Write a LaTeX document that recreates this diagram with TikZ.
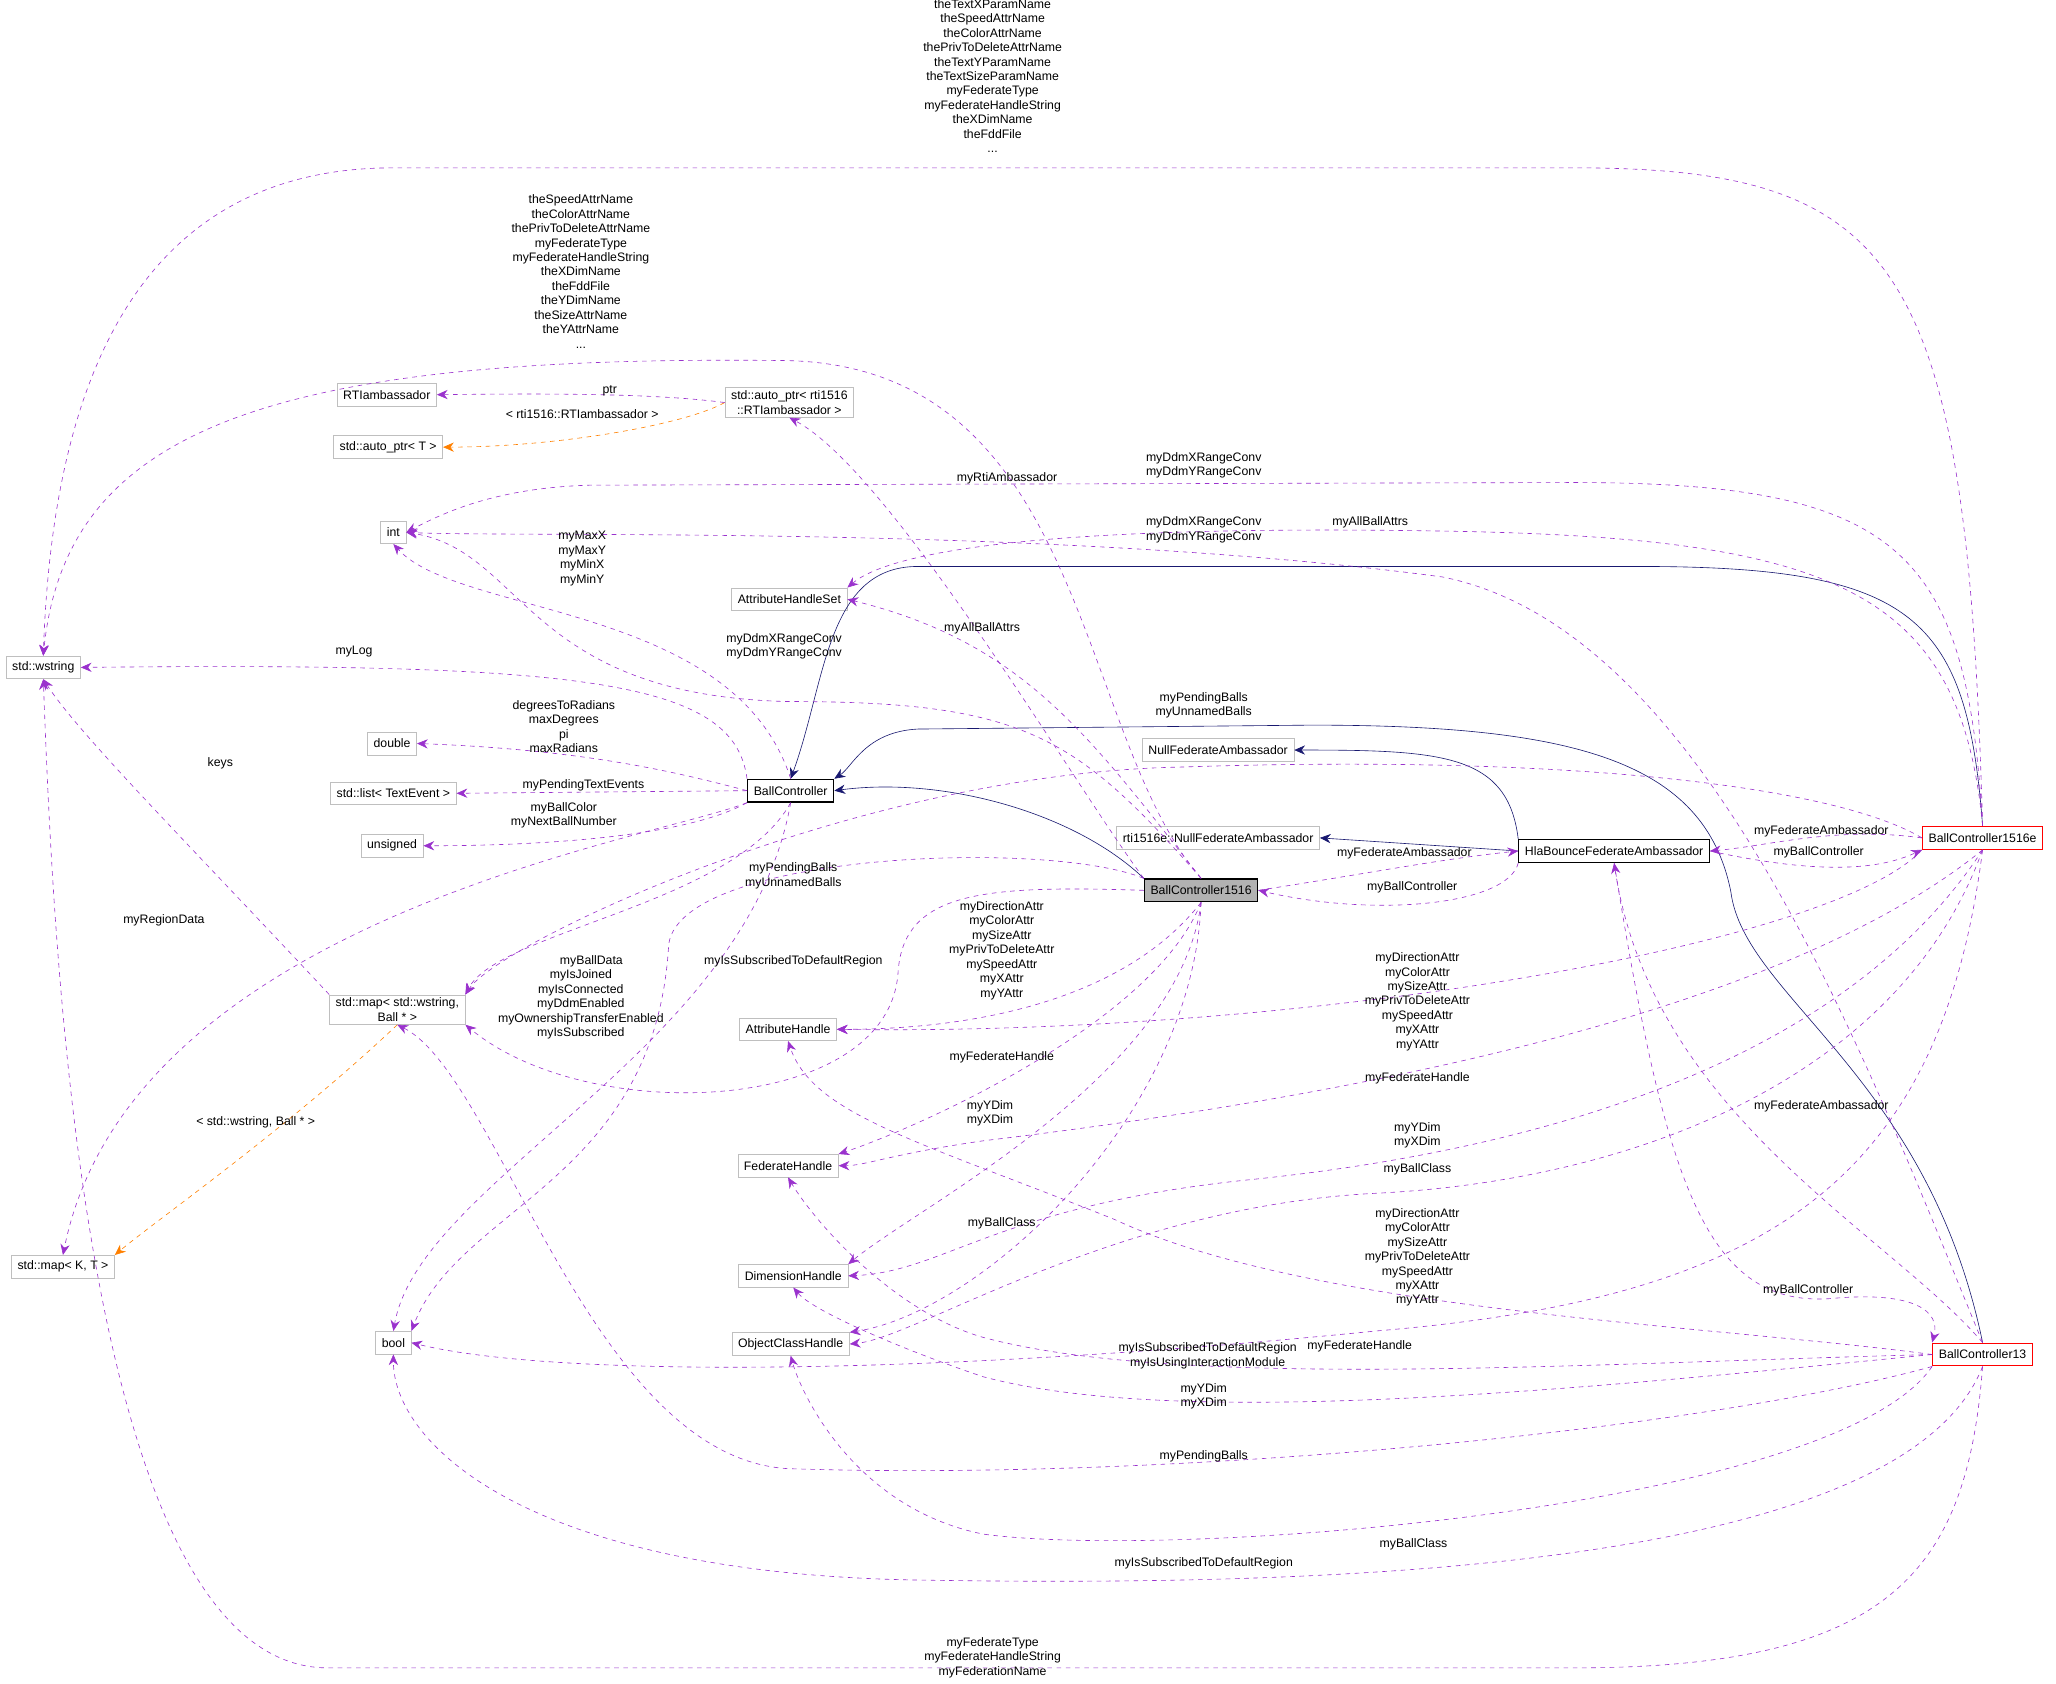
\documentclass[tikz,border=0pt]{standalone}
\usepackage{fontspec}
\setmainfont{Liberation Sans}
\usetikzlibrary{arrows.meta}
\definecolor{edgeuse}{HTML}{9A32CD}
\definecolor{edgeinh}{HTML}{191970}
\definecolor{boxgray}{HTML}{BFBFBF}
\tikzset{
  cls/.style={draw=boxgray, fill=white, inner xsep=4pt, inner ysep=2pt, minimum height=0.52cm, align=center, font=\fontsize{8}{9.4}\selectfont},
  main/.style={cls, draw=black, thick},
  ext/.style={cls, draw=red, thick},
  lbl/.style={align=center, inner sep=0pt, font=\fontsize{8}{9.4}\selectfont},
  use/.style={draw=edgeuse, dashed, -{Stealth[length=7pt,width=6pt]}},
  tmpl/.style={draw=orange, dashed, -{Stealth[length=7pt,width=6pt]}},
  inh/.style={draw=edgeinh, -{Stealth[length=7pt,width=6pt]}}
}
\begin{document}
\begin{tikzpicture}[x=0.03cm, y=-0.03cm]
  \useasboundingbox (0,0) rectangle (1568,1284);
  % Klassen
  \node[cls] (wstring) at (33,509) {std::wstring};
  \node[cls] (mapKT) at (48,966) {std::map< K, T >};
  \node[cls] (rtiamb) at (295,301) {RTIambassador};
  \node[cls] (autoptrT) at (296,341) {std::auto\_ptr< T >};
  \node[cls] (int) at (300,406) {int};
  \node[cls] (double) at (299,567) {double};
  \node[cls] (list) at (300,605) {std::list< TextEvent >};
  \node[cls] (unsigned) at (299,645) {unsigned};
  \node[cls] (mapWB) at (303,770) {std::map< std::wstring,\\Ball * >};
  \node[cls] (bool) at (300,1024) {bool};
  \node[cls] (autoptrR) at (602,307) {std::auto\_ptr< rti1516\\::RTIambassador >};
  \node[cls] (ahs) at (602,457) {AttributeHandleSet};
  \node[cls] (ah) at (601,785) {AttributeHandle};
  \node[cls] (fh) at (601,889) {FederateHandle};
  \node[cls] (dh) at (605,973) {DimensionHandle};
  \node[cls] (och) at (603,1025) {ObjectClassHandle};
  \node[main] (bc) at (603,603) {BallController};
  \node[cls] (nullfa) at (929,572) {NullFederateAmbassador};
  \node[cls] (rtinull) at (929,639) {rti1516e::NullFederateAmbassador};
  \node[main, fill=black!30] (bc1516) at (916,679) {BallController1516};
  \node[main] (hb) at (1231,649) {HlaBounceFederateAmbassador};
  \node[ext] (bc1516e) at (1512,639) {BallController1516e};
  \node[ext] (bc13) at (1512,1033) {BallController13};

  % Vererbung
  \draw[inh] (bc1516.north west) .. controls (820,620) and (720,592) .. (bc.east);
  \draw[inh] (bc1516e.north) .. controls (1500,470) and (1460,432) .. (1250,432) -- (700,432) .. controls (630,432) and (630,520) .. (bc.north);
  \draw[inh] (bc13.north) .. controls (1470,820) and (1330,760) .. (1320,680) .. controls (1300,580) and (1200,553) .. (1000,553) -- (700,556) .. controls (660,558) and (650,585) .. (bc.north east);
  \draw[inh] (hb.north west) .. controls (1150,575) and (1100,572) .. (nullfa.east);
  \draw[inh] (hb.west) -- (rtinull.east);

  % Template-Instanzen
  \draw[tmpl] (autoptrR.west) .. controls (520,325) and (420,341) .. (autoptrT.east);
  \draw[tmpl] (mapWB.south) .. controls (220,860) and (120,930) .. (mapKT.north east);

  % Attribute von BallController
  \draw[use] (autoptrR.west) .. controls (500,300) and (420,300) .. (rtiamb.east);
  \draw[use] (bc.north west) .. controls (560,520) and (450,505) .. (wstring.east);
  \draw[use] (mapWB.north west) .. controls (150,650) and (60,560) .. (wstring.south);
  \draw[use] (bc.north) .. controls (560,460) and (350,470) .. (int.south);
  \draw[use] (bc.west) .. controls (520,590) and (450,572) .. (double.east);
  \draw[use] (bc.west) -- (list.east);
  \draw[use] (bc.south west) .. controls (520,640) and (400,645) .. (unsigned.east);
  \draw[use] (bc.south west) .. controls (500,640) and (100,700) .. (mapKT.north);
  \draw[use] (bc.south) .. controls (560,690) and (380,710) .. (mapWB.north east);
  \draw[use] (bc.south) .. controls (570,800) and (320,900) .. (bool.north);

  % Attribute von BallController1516
  \draw[use] (bc1516.north west) .. controls (820,600) and (680,360) .. (autoptrR.south);
  \draw[use] (bc1516.north) .. controls (820,560) and (830,280) .. (600,275) .. controls (200,270) and (50,330) .. (wstring.north);
  \draw[use] (bc1516.north) .. controls (820,560) and (780,535) .. (600,535) .. controls (400,530) and (400,420) .. (int.east);
  \draw[use] (bc1516.north) .. controls (830,560) and (780,490) .. (ahs.east);
  \draw[use] (bc1516.west) .. controls (750,675) and (690,680) .. (685,740) .. controls (680,850) and (450,860) .. (mapWB.south east);
  \draw[use] (bc1516.north west) .. controls (800,640) and (520,650) .. (510,720) .. controls (500,900) and (350,920) .. (bool.north east);
  \draw[use] (bc1516.south) .. controls (860,760) and (750,785) .. (ah.east);
  \draw[use] (bc1516.south) .. controls (880,780) and (700,860) .. (fh.north east);
  \draw[use] (bc1516.south) .. controls (900,820) and (700,920) .. (dh.north east);
  \draw[use] (bc1516.south) .. controls (910,850) and (750,1000) .. (och.north east);
  \draw[use] (bc1516.east) .. controls (1050,665) and (1100,655) .. (hb.west);
  \draw[use] (hb.south west) .. controls (1150,690) and (1050,700) .. (bc1516.east);

  % Attribute von BallController1516e
  \draw[use] (bc1516e.north) .. controls (1500,200) and (1450,128) .. (1200,128) -- (300,128) .. controls (100,128) and (40,300) .. (wstring.north);
  \draw[use] (bc1516e.north) .. controls (1500,420) and (1450,368) .. (1200,368) -- (450,370) .. controls (380,372) and (340,390) .. (int.east);
  \draw[use] (bc1516e.north) .. controls (1495,450) and (1400,410) .. (1100,405) .. controls (800,400) and (680,420) .. (ahs.north east);
  \draw[use] (bc1516e.west) .. controls (1400,600) and (1200,575) .. (900,585) .. controls (650,590) and (380,720) .. (mapWB.north east);
  \draw[use] (bc1516e.south west) .. controls (1400,720) and (1000,790) .. (ah.east);
  \draw[use] (bc1516e.south) .. controls (1350,780) and (1000,840) .. (750,870) .. controls (680,880) and (660,889) .. (fh.east);
  \draw[use] (bc1516e.south) .. controls (1400,820) and (1150,880) .. (950,900) .. controls (760,920) and (720,970) .. (dh.east);
  \draw[use] (bc1516e.south) .. controls (1450,820) and (1250,900) .. (1050,910) .. controls (850,920) and (700,1020) .. (och.east);
  \draw[use] (bc1516e.south) .. controls (1480,900) and (1350,990) .. (1050,1015) .. controls (700,1050) and (420,1050) .. (bool.east);
  \draw[use] (bc1516e.west) .. controls (1400,630) and (1350,645) .. (hb.east);
  \draw[use] (hb.east) .. controls (1400,670) and (1440,660) .. (bc1516e.south west);

  % Attribute von BallController13
  \draw[use] (bc13.south) .. controls (1500,1200) and (1440,1272) .. (1200,1272) -- (250,1272) .. controls (60,1272) and (40,700) .. (wstring.south);
  \draw[use] (bc13.north) .. controls (1420,800) and (1300,480) .. (1100,440) .. controls (800,400) and (400,410) .. (int.east);
  \draw[use] (bc13.north) .. controls (1440,940) and (1260,850) .. (hb.south);
  \draw[use] (hb.south) .. controls (1270,900) and (1300,1000) .. (1400,990) .. controls (1460,985) and (1480,1000) .. (bc13.north west);
  \draw[use] (bc13.west) .. controls (1300,1010) and (1000,1000) .. (850,930) .. controls (700,870) and (620,850) .. (ah.south);
  \draw[use] (bc13.west) .. controls (1200,1040) and (900,1060) .. (750,1020) .. controls (680,1000) and (620,930) .. (fh.south);
  \draw[use] (bc13.west) .. controls (1200,1060) and (900,1090) .. (750,1050) .. controls (690,1030) and (620,1000) .. (dh.south);
  \draw[use] (bc13.south west) .. controls (1300,1090) and (900,1130) .. (600,1120) .. controls (450,1110) and (380,820) .. (mapWB.south);
  \draw[use] (bc13.south west) .. controls (1400,1150) and (900,1190) .. (750,1170) .. controls (650,1150) and (610,1060) .. (och.south);
  \draw[use] (bc13.south) .. controls (1450,1200) and (1000,1210) .. (700,1205) .. controls (400,1200) and (300,1100) .. (bool.south);

  % Beschriftungen
  \node[lbl] (l1) at (757,58) {theTextXParamName\\theSpeedAttrName\\theColorAttrName\\thePrivToDeleteAttrName\\theTextYParamName\\theTextSizeParamName\\myFederateType\\myFederateHandleString\\theXDimName\\theFddFile\\...};
  \node[lbl] (l2) at (443,207) {theSpeedAttrName\\theColorAttrName\\thePrivToDeleteAttrName\\myFederateType\\myFederateHandleString\\theXDimName\\theFddFile\\theYDimName\\theSizeAttrName\\theYAttrName\\...};
  \node[lbl] (l3) at (465,298) {ptr};
  \node[lbl] (l4) at (444,316) {< rti1516::RTIambassador >};
  \node[lbl] (l5) at (918,355) {myDdmXRangeConv\\myDdmYRangeConv};
  \node[lbl] (l6) at (768,365) {myRtiAmbassador};
  \node[lbl] (l7) at (918,404) {myDdmXRangeConv\\myDdmYRangeConv};
  \node[lbl] (l8) at (1045,398) {myAllBallAttrs};
  \node[lbl] (l9) at (444,426) {myMaxX\\myMaxY\\myMinX\\myMinY};
  \node[lbl] (l10) at (749,479) {myAllBallAttrs};
  \node[lbl] (l11) at (598,493) {myDdmXRangeConv\\myDdmYRangeConv};
  \node[lbl] (l12) at (270,497) {myLog};
  \node[lbl] (l13) at (430,554) {degreesToRadians\\maxDegrees\\pi\\maxRadians};
  \node[lbl] (l14) at (918,538) {myPendingBalls\\myUnnamedBalls};
  \node[lbl] (l15) at (168,582) {keys};
  \node[lbl] (l16) at (445,599) {myPendingTextEvents};
  \node[lbl] (l17) at (430,622) {myBallColor\\myNextBallNumber};
  \node[lbl] (l18) at (1389,634) {myFederateAmbassador};
  \node[lbl] (l19) at (1387,650) {myBallController};
  \node[lbl] (l20) at (1071,651) {myFederateAmbassador};
  \node[lbl] (l21) at (605,668) {myPendingBalls\\myUnnamedBalls};
  \node[lbl] (l22) at (1077,677) {myBallController};
  \node[lbl] (l23) at (125,702) {myRegionData};
  \node[lbl] (l24) at (764,725) {myDirectionAttr\\myColorAttr\\mySizeAttr\\myPrivToDeleteAttr\\mySpeedAttr\\myXAttr\\myYAttr};
  \node[lbl] (l25) at (605,733) {myIsSubscribedToDefaultRegion};
  \node[lbl] (l26) at (451,733) {myBallData};
  \node[lbl] (l27) at (1081,764) {myDirectionAttr\\myColorAttr\\mySizeAttr\\myPrivToDeleteAttr\\mySpeedAttr\\myXAttr\\myYAttr};
  \node[lbl] (l28) at (443,766) {myIsJoined\\myIsConnected\\myDdmEnabled\\myOwnershipTransferEnabled\\myIsSubscribed};
  \node[lbl] (l29) at (764,806) {myFederateHandle};
  \node[lbl] (l30) at (1081,822) {myFederateHandle};
  \node[lbl] (l31) at (1389,844) {myFederateAmbassador};
  \node[lbl] (l32) at (755,849) {myYDim\\myXDim};
  \node[lbl] (l33) at (195,856) {< std::wstring, Ball * >};
  \node[lbl] (l34) at (1081,866) {myYDim\\myXDim};
  \node[lbl] (l35) at (1081,892) {myBallClass};
  \node[lbl] (l36) at (764,933) {myBallClass};
  \node[lbl] (l37) at (1081,959) {myDirectionAttr\\myColorAttr\\mySizeAttr\\myPrivToDeleteAttr\\mySpeedAttr\\myXAttr\\myYAttr};
  \node[lbl] (l38) at (1379,984) {myBallController};
  \node[lbl] (l39) at (1037,1027) {myFederateHandle};
  \node[lbl] (l40) at (921,1034) {myIsSubscribedToDefaultRegion\\myIsUsingInteractionModule};
  \node[lbl] (l41) at (918,1065) {myYDim\\myXDim};
  \node[lbl] (l42) at (918,1111) {myPendingBalls};
  \node[lbl] (l43) at (1078,1178) {myBallClass};
  \node[lbl] (l44) at (918,1192) {myIsSubscribedToDefaultRegion};
  \node[lbl] (l45) at (757,1264) {myFederateType\\myFederateHandleString\\myFederationName};
\end{tikzpicture}
\end{document}
